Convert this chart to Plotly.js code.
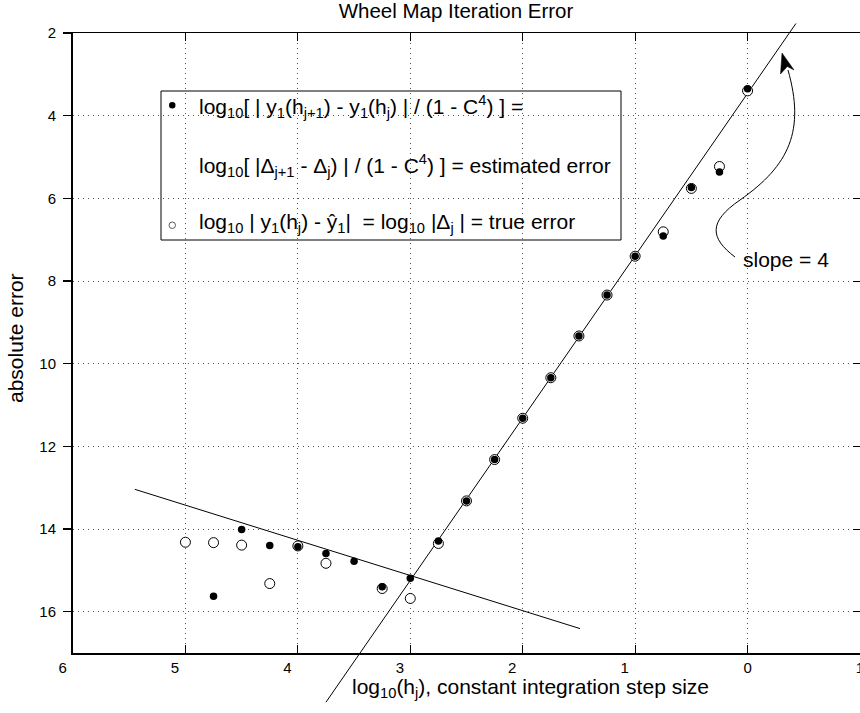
<!DOCTYPE html>
<html>
<head>
<meta charset="utf-8">
<script src="https://cdn.plot.ly/plotly-3.0.1.min.js"></script>
<style>html,body{margin:0;padding:0;background:#fff;}#chart{width:860px;height:713px;}</style>
</head>
<body>
<div id="chart"></div>
<script>
// ---- data ----
const stepLog = [5.0, 4.75, 4.5, 4.25, 4.0, 3.75, 3.5, 3.25, 3.0, 2.75, 2.5, 2.25, 2.0, 1.75, 1.5, 1.25, 1.0, 0.75, 0.5, 0.25, 0.0];
const estimatedError = [null, 15.63, 14.01, 14.40, 14.43, 14.59, 14.78, 15.40, 15.19, 14.29, 13.32, 12.32, 11.32, 10.34, 9.33, 8.34, 7.40, 6.91, 5.74, 5.36, 3.35];
const trueError = [14.32, 14.33, 14.39, 15.32, 14.41, 14.83, null, 15.44, 15.68, 14.35, 13.32, 12.32, 11.32, 10.34, 9.33, 8.34, 7.40, 6.81, 5.76, 5.23, 3.40];
const slopeLineX = [3.75, -0.43];
const slopeLineY = [18.19, 1.77];
const floorLineX = [5.45, 1.49];
const floorLineY = [13.04, 16.41];
const xTickVals = [6, 5, 4, 3, 2, 1, 0, -1];
const xTickText = ['6', '5', '4', '3', '2', '1', '0', '1'];
const yTickVals = [2, 4, 6, 8, 10, 12, 14, 16];
const yTickText = ['2', '4', '6', '8', '10', '12', '14', '16'];

// ---- geometry ----
const W = 860, H = 713, L = 73, R = 860, T = 33, B = 653;
const X_RANGE = [6, -1], Y_RANGE = [17, 2];
const px2x = px => X_RANGE[0] + (px - L) * (X_RANGE[1] - X_RANGE[0]) / (R - L);
const py2y = py => Y_RANGE[1] + (py - T) * (Y_RANGE[0] - Y_RANGE[1]) / (B - T);
const fx = px => px / W;
const fy = py => 1 - py / H;
const FONT = 'Liberation Sans, Arial, Helvetica, sans-serif';
const NB = '\u00a0';
const TXT = 21;

const traces = [
  {x: [], y: [], xaxis: 'x', yaxis: 'y', type: 'scatter', mode: 'markers', showlegend: false, hoverinfo: 'skip'},
  {x: [], y: [], xaxis: 'x3', yaxis: 'y', type: 'scatter', mode: 'markers', showlegend: false, hoverinfo: 'skip'},
  {x: [], y: [], xaxis: 'x', yaxis: 'y3', type: 'scatter', mode: 'markers', showlegend: false, hoverinfo: 'skip'},
  {x: slopeLineX, y: slopeLineY, xaxis: 'x2', yaxis: 'y2', type: 'scatter', mode: 'lines',
   line: {color: '#000', width: 1}, showlegend: false, hoverinfo: 'skip'},
  {x: floorLineX, y: floorLineY, xaxis: 'x2', yaxis: 'y2', type: 'scatter', mode: 'lines',
   line: {color: '#000', width: 1}, showlegend: false, hoverinfo: 'skip'},
  {x: stepLog, y: trueError, xaxis: 'x2', yaxis: 'y2', type: 'scatter', mode: 'markers', name: 'true error',
   marker: {symbol: 'circle', size: 10, color: '#fff', line: {color: '#000', width: 1}}, showlegend: false},
  {x: stepLog, y: estimatedError, xaxis: 'x2', yaxis: 'y2', type: 'scatter', mode: 'markers', name: 'estimated error',
   marker: {symbol: 'circle', size: 7.5, color: '#000', line: {width: 0}}, showlegend: false}
];

const gridStyle = {showgrid: true, gridcolor: '#555', gridwidth: 1, griddash: '1px,4px'};

const layout = {
  width: W, height: H,
  margin: {l: 0, r: 0, t: 0, b: 0, pad: 0},
  paper_bgcolor: '#fff', plot_bgcolor: 'rgba(0,0,0,0)',
  font: {family: FONT, color: '#000', size: 15},
  showlegend: false,
  title: {text: 'Wheel Map Iteration Error', font: {family: FONT, size: 20.5, color: '#000'},
          x: 456 / W, xanchor: 'center', xref: 'paper', y: fy(11), yanchor: 'middle', yref: 'container'},
  xaxis: Object.assign({
    domain: [L / W, 1], range: X_RANGE, anchor: 'y', side: 'bottom',
    tickmode: 'array', tickvals: xTickVals,
    ticktext: xTickText.map((t, i) => i < 6 ? t + NB.repeat(5) : t),
    ticks: 'inside', ticklen: 8, tickwidth: 1, tickcolor: '#000',
    showline: true, linewidth: 2, linecolor: '#000', zeroline: false,
    tickfont: {size: 15, family: FONT, color: '#000'}, ticklabelstandoff: 0, ticklabeloverflow: 'allow'
  }, gridStyle),
  yaxis: Object.assign({
    domain: [fy(B), fy(T)], range: Y_RANGE, anchor: 'x',
    tickmode: 'array', tickvals: yTickVals, ticktext: yTickText,
    ticks: 'outside', ticklen: 8, tickwidth: 1.5, tickcolor: '#000',
    showline: true, linewidth: 2, linecolor: '#000', zeroline: false,
    tickfont: {size: 15, family: FONT, color: '#000'}, ticklabelstandoff: 4
  }, gridStyle),
  xaxis3: {
    overlaying: 'x', side: 'top', anchor: 'y', range: X_RANGE,
    tickmode: 'array', tickvals: xTickVals, ticks: 'inside', ticklen: 8, tickwidth: 1, tickcolor: '#000',
    showticklabels: false, showline: true, linewidth: 1, linecolor: '#000', showgrid: false, zeroline: false
  },
  yaxis3: {
    overlaying: 'y', side: 'right', anchor: 'x', range: Y_RANGE,
    tickmode: 'array', tickvals: yTickVals, ticks: 'inside', ticklen: 7, tickwidth: 1, tickcolor: '#000',
    showticklabels: false, showline: false, showgrid: false, zeroline: false
  },
  xaxis2: {domain: [0, 1], range: [px2x(0), px2x(W)], anchor: 'y2', visible: false, fixedrange: true},
  yaxis2: {domain: [0, 1], range: [py2y(H), py2y(0)], anchor: 'x2', visible: false, fixedrange: true},
  shapes: [
    {type: 'rect', xref: 'paper', yref: 'paper', x0: fx(161), x1: fx(621), y0: fy(91), y1: fy(240),
     line: {color: '#000', width: 1}, fillcolor: 'rgba(0,0,0,0)'},
    {type: 'circle', xref: 'paper', yref: 'paper', x0: fx(169), x1: fx(175.5), y0: fy(102), y1: fy(108.5),
     line: {color: '#000', width: 0}, fillcolor: '#000'},
    {type: 'circle', xref: 'paper', yref: 'paper', x0: fx(169), x1: fx(175.5), y0: fy(222), y1: fy(228.5),
     line: {color: '#333', width: 0.8}, fillcolor: 'rgba(0,0,0,0)'},
    {type: 'path', xref: 'paper', yref: 'paper', line: {color: '#000', width: 1}, fillcolor: 'rgba(0,0,0,0)',
     path: `M${fx(735)},${fy(257)} C${fx(710)},${fy(238)} ${fx(708)},${fy(222)} ${fx(740)},${fy(200)} C${fx(790)},${fy(165)} ${fx(805)},${fy(130)} ${fx(788)},${fy(70)}`},
    {type: 'path', xref: 'paper', yref: 'paper', line: {color: '#000', width: 0.5}, fillcolor: '#000',
     path: `M${fx(782)},${fy(53)} L${fx(780.5)},${fy(74)} L${fx(787.3)},${fy(66.5)} L${fx(794)},${fy(70)} Z`}
  ],
  annotations: [
    {xref: 'paper', yref: 'paper', x: fx(197), y: fy(107), xanchor: 'left', yanchor: 'middle', showarrow: false,
     font: {size: TXT, family: FONT, color: '#000'},
     text: 'log<sub>10</sub>[ | y<sub>1</sub>(h<sub>j+1</sub>) - y<sub>1</sub>(h<sub>j</sub>) | / (1 - C<sup>4</sup>) ] ='},
    {xref: 'paper', yref: 'paper', x: fx(197), y: fy(166), xanchor: 'left', yanchor: 'middle', showarrow: false,
     font: {size: TXT, family: FONT, color: '#000'},
     text: 'log<sub>10</sub>[ |Δ<sub>j+1</sub> - Δ<sub>j</sub>) | / (1 - C<sup>4</sup>) ] = estimated error'},
    {xref: 'paper', yref: 'paper', x: fx(197), y: fy(223), xanchor: 'left', yanchor: 'middle', showarrow: false,
     font: {size: TXT, family: FONT, color: '#000'},
     text: 'log<sub>10</sub> | y<sub>1</sub>(h<sub>j</sub>) - ŷ<sub>1</sub>|  = log<sub>10</sub> |Δ<sub>j</sub> | = true error'},
    {xref: 'paper', yref: 'paper', x: fx(786), y: fy(259), xanchor: 'center', yanchor: 'middle', showarrow: false,
     font: {size: TXT, family: FONT, color: '#000'}, text: 'slope = 4'},
    {xref: 'paper', yref: 'paper', x: fx(530), y: fy(688), xanchor: 'center', yanchor: 'middle', showarrow: false,
     font: {size: TXT, family: FONT, color: '#000'}, text: 'log<sub>10</sub>(h<sub>j</sub>), constant integration step size'},
    {xref: 'paper', yref: 'paper', x: fx(15), y: fy(338), xanchor: 'center', yanchor: 'middle', showarrow: false,
     textangle: -90, font: {size: TXT, family: FONT, color: '#000'}, text: 'absolute error'}
  ]
};

Plotly.newPlot('chart', traces, layout, {staticPlot: true, displayModeBar: false});
</script>
</body>
</html>
